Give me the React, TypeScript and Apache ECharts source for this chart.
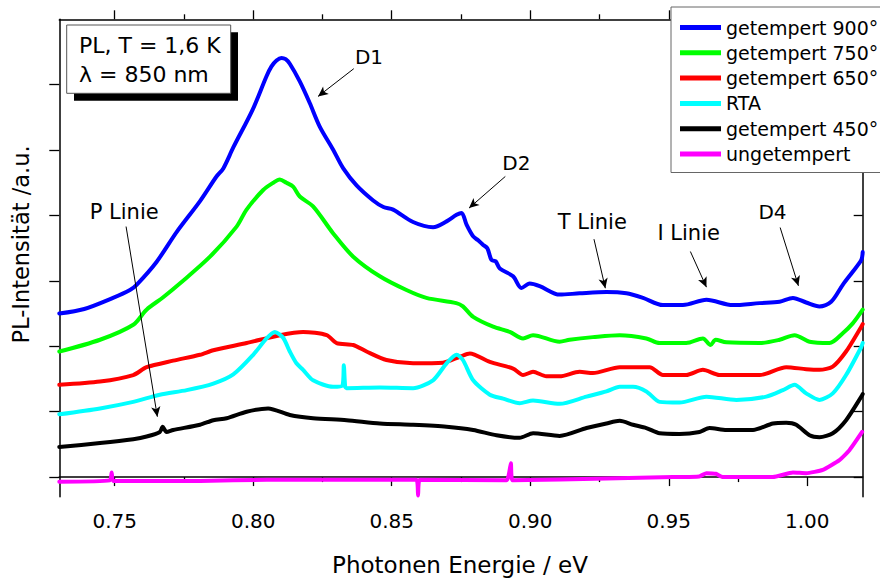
import React, { useEffect, useRef } from "react";
import * as echarts from "echarts";

// Axis ranges / ticks
const X_MIN = 0.73;
const X_MAX = 1.02;
const Y_MIN = -0.3;
const Y_MAX = 7;
const X_MAJOR = [0.75, 0.8, 0.85, 0.9, 0.95, 1.0];
const X_MINOR = [0.775, 0.825, 0.875, 0.925, 0.975];
const Y_TICKS = [0, 1, 2, 3, 4, 5, 6];

// Series names
const NAMES = [
  "getempert 900°",
  "getempert 750°",
  "getempert 650°",
  "RTA",
  "getempert 450°",
  "ungetempert",
];
const COLORS = ["#0000FF", "#00FF00", "#FF0000", "#00FFFF", "#000000", "#FF00FF"];

// [photon energy eV, PL intensity a.u.]
const blue900 = [
  [0.730, 2.50], [0.739, 2.57], [0.7494, 2.74], [0.7555, 2.86], [0.7579, 2.94], [0.7651, 3.29],
  [0.7724, 3.75], [0.7808, 4.22], [0.7868, 4.60], [0.7892, 4.72], [0.7928, 5.04], [0.7998, 5.62],
  [0.8048, 6.13], [0.8066, 6.28], [0.8084, 6.37], [0.8102, 6.41], [0.8117, 6.39], [0.8132, 6.32],
  [0.8168, 6.05], [0.8204, 5.72], [0.8240, 5.36], [0.8288, 5.01], [0.8325, 4.72], [0.8373, 4.46],
  [0.8433, 4.23], [0.8470, 4.13], [0.8505, 4.09], [0.8577, 3.90], [0.8649, 3.82], [0.8698, 3.91],
  [0.8734, 4.01], [0.8752, 4.04], [0.8770, 3.86], [0.8794, 3.68], [0.8812, 3.62], [0.8830, 3.55],
  [0.8845, 3.50], [0.8860, 3.32], [0.8875, 3.30], [0.8890, 3.19], [0.8938, 3.07], [0.8968, 2.89],
  [0.8998, 2.96], [0.9034, 2.92], [0.9106, 2.79], [0.9178, 2.81], [0.9275, 2.83], [0.9347, 2.81],
  [0.9407, 2.74], [0.9479, 2.63], [0.9551, 2.63], [0.9636, 2.71], [0.9731, 2.63], [0.9828, 2.66],
  [0.9900, 2.68], [0.9948, 2.74], [0.9996, 2.67], [1.0044, 2.61], [1.0086, 2.68], [1.0128, 2.94],
  [1.0164, 3.14], [1.0195, 3.32], [1.0200, 3.44],
];
const green750 = [
  [0.730, 1.92], [0.7447, 2.10], [0.7567, 2.33], [0.7615, 2.56], [0.7675, 2.75], [0.7735, 2.96],
  [0.7844, 3.37], [0.7940, 3.83], [0.7976, 4.09], [0.8036, 4.39], [0.8072, 4.50], [0.8096, 4.55],
  [0.8120, 4.50], [0.8144, 4.44], [0.8168, 4.29], [0.8216, 4.14], [0.8288, 3.73], [0.8361, 3.37],
  [0.8457, 3.07], [0.8553, 2.86], [0.8625, 2.74], [0.8733, 2.66], [0.8757, 2.61], [0.8794, 2.45],
  [0.8866, 2.30], [0.8926, 2.22], [0.8974, 2.12], [0.9010, 2.17], [0.9106, 2.07], [0.9142, 2.10],
  [0.9226, 2.14], [0.9323, 2.17], [0.9419, 2.12], [0.9467, 2.05], [0.9563, 2.05], [0.9623, 2.12],
  [0.9651, 2.02], [0.9669, 2.10], [0.9708, 2.06], [0.9828, 2.05], [0.9900, 2.10], [0.9954, 2.17],
  [1.0008, 2.07], [1.0080, 2.05], [1.0128, 2.20], [1.0164, 2.35], [1.0200, 2.56],
];
const red650 = [
  [0.730, 1.41], [0.7447, 1.46], [0.7567, 1.56], [0.7615, 1.68], [0.7711, 1.78], [0.7808, 1.87],
  [0.7856, 1.94], [0.7976, 2.05], [0.8096, 2.17], [0.8180, 2.22], [0.8265, 2.17], [0.8301, 2.05],
  [0.8361, 2.02], [0.8409, 1.92], [0.8481, 1.79], [0.8577, 1.74], [0.8685, 1.75], [0.8746, 1.84],
  [0.8782, 1.89], [0.8854, 1.76], [0.8938, 1.66], [0.8974, 1.56], [0.9010, 1.61], [0.9058, 1.54],
  [0.9106, 1.54], [0.9178, 1.61], [0.9226, 1.59], [0.9323, 1.68], [0.9431, 1.68], [0.9479, 1.56],
  [0.9563, 1.56], [0.9623, 1.64], [0.9683, 1.56], [0.9828, 1.56], [0.9924, 1.68], [0.9996, 1.65],
  [1.0044, 1.64], [1.0092, 1.69], [1.0140, 1.92], [1.0195, 2.30], [1.0200, 2.34],
];
const cyanRTA = [
  [0.730, 0.96], [0.7447, 1.05], [0.7567, 1.15], [0.7663, 1.26], [0.7760, 1.33], [0.7856, 1.43],
  [0.7928, 1.57], [0.8000, 1.87], [0.8048, 2.12], [0.8078, 2.22], [0.8108, 2.13], [0.8132, 1.92],
  [0.8156, 1.74], [0.8180, 1.64], [0.8216, 1.48], [0.8288, 1.38], [0.8322, 1.40], [0.8327, 1.71],
  [0.8332, 1.38], [0.8337, 1.36], [0.8457, 1.37], [0.8577, 1.36], [0.8649, 1.48], [0.8698, 1.74],
  [0.8734, 1.87], [0.8757, 1.79], [0.8794, 1.48], [0.8854, 1.26], [0.8902, 1.20], [0.8962, 1.13],
  [0.9010, 1.17], [0.9106, 1.12], [0.9203, 1.23], [0.9275, 1.31], [0.9323, 1.38], [0.9371, 1.38],
  [0.9419, 1.31], [0.9467, 1.15], [0.9539, 1.14], [0.9636, 1.23], [0.9744, 1.18], [0.9852, 1.23],
  [0.9912, 1.33], [0.9954, 1.41], [0.9996, 1.28], [1.0044, 1.18], [1.0092, 1.28], [1.0140, 1.56],
  [1.0195, 1.99], [1.0200, 2.05],
];
const black450 = [
  [0.730, 0.46], [0.7447, 0.52], [0.7567, 0.58], [0.7615, 0.62], [0.7663, 0.69], [0.7673, 0.77],
  [0.7687, 0.69], [0.7711, 0.72], [0.7808, 0.80], [0.7856, 0.87], [0.7904, 0.90], [0.7976, 1.00],
  [0.8054, 1.05], [0.8132, 0.95], [0.8216, 0.90], [0.8337, 0.87], [0.8457, 0.82], [0.8577, 0.80],
  [0.8698, 0.77], [0.8794, 0.72], [0.8878, 0.64], [0.8962, 0.60], [0.9010, 0.67], [0.9106, 0.63],
  [0.9203, 0.75], [0.9275, 0.82], [0.9323, 0.86], [0.9371, 0.80], [0.9419, 0.75], [0.9467, 0.67],
  [0.9539, 0.66], [0.9611, 0.69], [0.9647, 0.75], [0.9708, 0.72], [0.9804, 0.72], [0.9876, 0.82],
  [0.9924, 0.83], [0.9960, 0.80], [1.0008, 0.64], [1.0044, 0.61], [1.0092, 0.67], [1.0140, 0.87],
  [1.0195, 1.23], [1.0200, 1.27],
];
const magentaUn = [
  [0.730, -0.07], [0.7483, -0.05], [0.7489, 0.07], [0.7495, -0.06], [0.7808, -0.06], [0.8048, -0.04],
  [0.8288, -0.04], [0.8589, -0.04], [0.8595, -0.28], [0.8601, -0.04], [0.8914, -0.05], [0.8930, 0.21],
  [0.8936, -0.05], [0.9275, -0.02], [0.9515, 0.00], [0.9610, 0.01], [0.9636, 0.06], [0.9670, 0.05],
  [0.9695, 0.00], [0.9876, 0.00], [0.9948, 0.07], [0.9996, 0.06], [1.0056, 0.11], [1.0116, 0.26],
  [1.0152, 0.41], [1.0198, 0.69],
];
const SERIES_DATA = [blue900, green750, red650, cyanRTA, black450, magentaUn];
const SMOOTH = [0.3, 0.3, 0.25, 0.25, 0.25, 0.15];

// Annotation arrows: [fromX, fromY, toX, toY] in data units
const ARROWS = [
  [0.8363, 6.245, 0.8234, 5.821], // D1
  [0.8910, 4.597, 0.8779, 4.113], // D2
  [0.9230, 3.638, 0.9271, 2.888], // T Linie
  [0.9578, 3.449, 0.9636, 2.904], // I Linie
  [0.9902, 3.816, 0.9968, 2.924], // D4
  [0.7541, 3.831, 0.7654, 0.923], // P Linie
];

const FONT = "DejaVu Sans";

export default function App() {
  const ref = useRef<HTMLDivElement>(null);
  useEffect(() => {
    const chart = echarts.init(ref.current!, null, { renderer: "svg" });
    const axisLine = { show: true, lineStyle: { color: "#000", width: 1.5 } };
    const baseX = {
      type: "value",
      min: X_MIN,
      max: X_MAX,
      splitLine: { show: false },
    };
    const baseY = {
      type: "value",
      min: Y_MIN,
      max: Y_MAX,
      splitLine: { show: false },
      axisLabel: { show: false },
    };
    const lineSeries = NAMES.map((name, i) => ({
      name,
      type: "line",
      data: SERIES_DATA[i],
      showSymbol: false,
      symbol: "none",
      smooth: SMOOTH[i],
      color: COLORS[i],
      lineStyle: { width: 4, color: COLORS[i], join: "round", cap: "round" },
      silent: true,
      z: 2,
    }));
    const option: any = {
      animation: false,
      textStyle: { fontFamily: FONT },
      grid: { left: 59.3, top: 19.3, right: 17.3, bottom: 84.3, outerBoundsMode: "none" },
      xAxis: [
        {
          ...baseX,
          position: "bottom",
          axisLine,
          axisTick: { show: true, inside: false, length: 9, customValues: X_MAJOR, lineStyle: { color: "#000", width: 1.3 } },
          axisLabel: {
            show: true,
            customValues: X_MAJOR,
            formatter: (v: number) => v.toFixed(2),
            color: "#000",
            fontSize: 20,
            fontFamily: FONT,
            margin: 14,
          },
        },
        {
          ...baseX,
          position: "bottom",
          axisLine: { show: false },
          axisTick: { show: true, inside: false, length: 5, customValues: X_MINOR, lineStyle: { color: "#000", width: 1.3 } },
          axisLabel: { show: false, customValues: X_MINOR },
        },
        {
          ...baseX,
          position: "top",
          axisLine,
          axisTick: { show: true, inside: false, length: 9, customValues: X_MAJOR, lineStyle: { color: "#000", width: 1.3 } },
          axisLabel: { show: false, customValues: X_MAJOR },
        },
        {
          ...baseX,
          position: "top",
          axisLine: { show: false },
          axisTick: { show: true, inside: false, length: 5, customValues: X_MINOR, lineStyle: { color: "#000", width: 1.3 } },
          axisLabel: { show: false, customValues: X_MINOR },
        },
      ],
      yAxis: [
        {
          ...baseY,
          position: "left",
          axisLine,
          axisTick: { show: true, inside: false, length: 10, customValues: Y_TICKS, lineStyle: { color: "#000", width: 1.3 } },
          axisLabel: { show: false, customValues: Y_TICKS },
        },
        {
          ...baseY,
          position: "right",
          axisLine,
          axisTick: { show: true, inside: true, length: 9, customValues: Y_TICKS, lineStyle: { color: "#000", width: 1.3 } },
          axisLabel: { show: false, customValues: Y_TICKS },
        },
      ],
      legend: {
        data: NAMES,
        orient: "vertical",
        left: 671,
        top: 7,
        padding: [10, 60, 8, 9],
        itemGap: 4.3,
        itemWidth: 41,
        itemHeight: 5,
        icon: "rect",
        backgroundColor: "#fff",
        borderColor: "#666",
        borderWidth: 1,
        borderRadius: 0,
        textStyle: { fontSize: 19, lineHeight: 21, color: "#000", fontFamily: FONT },
        selectedMode: false,
        z: 10,
      },
      series: [
        ...lineSeries,
        {
          name: "annotations",
          type: "line",
          data: [],
          silent: true,
          markLine: {
            silent: true,
            symbol: ["none", "arrow"],
            symbolSize: [7, 10],
            label: { show: false },
            lineStyle: { color: "#000", width: 1, type: "solid" },
            emphasis: { disabled: true },
            data: ARROWS.map((a) => [{ coord: [a[0], a[1]] }, { coord: [a[2], a[3]] }]),
          },
          z: 5,
        },
      ],
      graphic: [
        { type: "rect", shape: { x: 74, y: 32.3, width: 164, height: 68.4 }, style: { fill: "#000" }, z: 20 },
        { type: "rect", shape: { x: 66.7, y: 25, width: 164, height: 68.3 }, style: { fill: "#fff", stroke: "#555", lineWidth: 1 }, z: 21 },
        { type: "text", x: 79, y: 45.7, style: { text: "PL, T = 1,6 K", fontSize: 22, fontFamily: FONT, fill: "#000", align: "left", verticalAlign: "middle" }, z: 22 },
        { type: "text", x: 79, y: 74.1, style: { text: "λ = 850 nm", fontSize: 22, fontFamily: FONT, fill: "#000", align: "left", verticalAlign: "middle" }, z: 22 },
        { type: "text", x: 369, y: 57, style: { text: "D1", fontSize: 20, fontFamily: FONT, fill: "#000", align: "center", verticalAlign: "middle" }, z: 22 },
        { type: "text", x: 516.3, y: 163, style: { text: "D2", fontSize: 20, fontFamily: FONT, fill: "#000", align: "center", verticalAlign: "middle" }, z: 22 },
        { type: "text", x: 592.3, y: 221.5, style: { text: "T Linie", fontSize: 21, fontFamily: FONT, fill: "#000", align: "center", verticalAlign: "middle" }, z: 22 },
        { type: "text", x: 688.7, y: 232.5, style: { text: "I Linie", fontSize: 21, fontFamily: FONT, fill: "#000", align: "center", verticalAlign: "middle" }, z: 22 },
        { type: "text", x: 772.5, y: 211.5, style: { text: "D4", fontSize: 20, fontFamily: FONT, fill: "#000", align: "center", verticalAlign: "middle" }, z: 22 },
        { type: "text", x: 124.2, y: 211.5, style: { text: "P Linie", fontSize: 21, fontFamily: FONT, fill: "#000", align: "center", verticalAlign: "middle" }, z: 22 },
        { type: "text", x: 460, y: 565.3, style: { text: "Photonen Energie / eV", fontSize: 23, fontFamily: FONT, fill: "#000", align: "center", verticalAlign: "middle" }, z: 22 },
        { type: "text", x: 21, y: 244.5, rotation: Math.PI / 2, style: { text: "PL-Intensität /a.u.", fontSize: 22.5, fontFamily: FONT, fill: "#000", align: "center", verticalAlign: "middle" }, z: 22 },
      ],
    };
    chart.setOption(option);
    return () => chart.dispose();
  }, []);
  return (
    <div
      ref={ref}
      style={{ position: "fixed", left: 0, top: 0, width: 880, height: 581, background: "#fff" }}
    />
  );
}
